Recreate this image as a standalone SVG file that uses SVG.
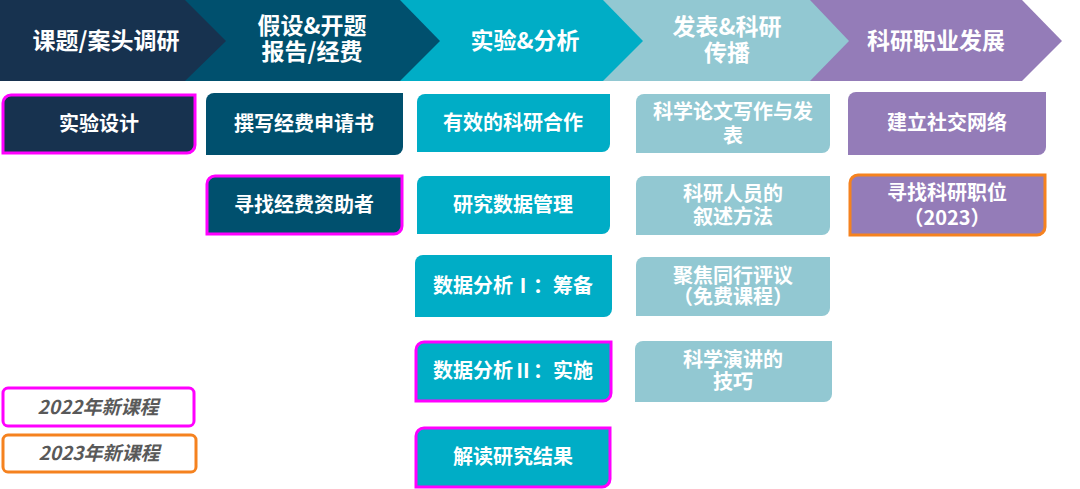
<svg xmlns="http://www.w3.org/2000/svg" width="1080" height="489" viewBox="0 0 1080 489">
<style>
text{font-family:"Noto Sans CJK SC","Noto Sans",sans-serif;font-weight:bold;fill:#fff;text-anchor:middle}
.h{font-size:23px}
.b{font-size:20px}
.lg{font-size:19px;fill:#595959;font-style:italic}
.navy{fill:#17324f}
.dteal{fill:#00506e}
.cyan{fill:#00adc6}
.lt{fill:#92c8d2}
.pur{fill:#947cb8}
.mag{stroke:#ff00ff;stroke-width:3}
.org{stroke:#f5821f;stroke-width:3}
</style>
<rect width="1080" height="489" fill="#fff"/>
<g id="header">
<polygon class="pur" points="810,0 1022,0 1062,41 1022,81 810,81"/>
<polygon class="lt" points="603,0 810,0 849,41 810,81 603,81"/>
<polygon class="cyan" points="400,0 603,0 643,41 603,81 400,81"/>
<polygon class="dteal" points="185,0 400,0 440,41 400,81 185,81"/>
<polygon class="navy" points="0,0 185,0 226,41 185,81 0,81"/>
<text class="h" x="106" y="49">课题/案头调研</text>
<text class="h" x="312" y="34">假设&amp;开题</text>
<text class="h" x="312" y="60">报告/经费</text>
<text class="h" x="525" y="49">实验&amp;分析</text>
<text class="h" x="727" y="35">发表&amp;科研</text>
<text class="h" x="727" y="61">传播</text>
<text class="h" x="936" y="49">科研职业发展</text>
</g>
<g id="n-shiyansheji">
<path class="navy mag" d="M3,103 A8,8 0 0 1 11,95 H195 V145 A8,8 0 0 1 187,153 H3 Z"/>
<text class="b" x="99" y="131">实验设计</text>
</g>
<g id="n-zhuanxie">
<path class="dteal" d="M206,101 A8,8 0 0 1 214,93 H403 V147 A8,8 0 0 1 395,155 H206 Z"/>
<text class="b" x="304" y="131">撰写经费申请书</text>
</g>
<g id="n-xunzhaojingfei">
<path class="dteal mag" d="M207,184 A8,8 0 0 1 215,176 H402 V226 A8,8 0 0 1 394,234 H207 Z"/>
<text class="b" x="304" y="212">寻找经费资助者</text>
</g>
<g id="n-hezuo">
<path class="cyan" d="M417,102 A8,8 0 0 1 425,94 H610 V144 A8,8 0 0 1 602,152 H417 Z"/>
<text class="b" x="513" y="130">有效的科研合作</text>
</g>
<g id="n-shujuguanli">
<path class="cyan" d="M417,184 A8,8 0 0 1 425,176 H610 V226 A8,8 0 0 1 602,234 H417 Z"/>
<text class="b" x="513" y="212">研究数据管理</text>
</g>
<g id="n-fenxi1">
<path class="cyan" d="M415,263 A8,8 0 0 1 423,255 H612 V309 A8,8 0 0 1 604,317 H415 Z"/>
<text class="b" x="513" y="293">数据分析Ⅰ：筹备</text>
</g>
<g id="n-fenxi2">
<path class="cyan mag" d="M416,350 A8,8 0 0 1 424,342 H611 V393 A8,8 0 0 1 603,401 H416 Z"/>
<text class="b" x="513" y="378">数据分析Ⅱ：实施</text>
</g>
<g id="n-jiedu">
<path class="cyan mag" d="M416,436 A8,8 0 0 1 424,428 H610 V479 A8,8 0 0 1 602,487 H416 Z"/>
<text class="b" x="513" y="464">解读研究结果</text>
</g>
<g id="n-lunwen">
<path class="lt" d="M636,102 A8,8 0 0 1 644,94 H830 V145 A8,8 0 0 1 822,153 H636 Z"/>
<text class="b" x="733" y="119">科学论文写作与发</text>
<text class="b" x="733" y="143">表</text>
</g>
<g id="n-xushu">
<path class="lt" d="M636,184 A8,8 0 0 1 644,176 H830 V227 A8,8 0 0 1 822,235 H636 Z"/>
<text class="b" x="733" y="201">科研人员的</text>
<text class="b" x="733" y="224">叙述方法</text>
</g>
<g id="n-pingyi">
<path class="lt" d="M636,265 A8,8 0 0 1 644,257 H830 V308 A8,8 0 0 1 822,316 H636 Z"/>
<text class="b" x="733" y="283">聚焦同行评议</text>
<text class="b" x="733" y="304">（免费课程）</text>
</g>
<g id="n-yanjiang">
<path class="lt" d="M635,349 A8,8 0 0 1 643,341 H832 V394 A8,8 0 0 1 824,402 H635 Z"/>
<text class="b" x="733" y="367">科学演讲的</text>
<text class="b" x="733" y="389">技巧</text>
</g>
<g id="n-shejiao">
<path class="pur" d="M848,100 A8,8 0 0 1 856,92 H1046 V147 A8,8 0 0 1 1038,155 H848 Z"/>
<text class="b" x="947" y="130">建立社交网络</text>
</g>
<g id="n-zhiwei">
<path class="pur org" d="M850,183 A8,8 0 0 1 858,175 H1045 V227 A8,8 0 0 1 1037,235 H850 Z"/>
<text class="b" x="947" y="200">寻找科研职位</text>
<text class="b" x="947" y="225">（2023）</text>
</g>
<g id="legend-2022">
<rect x="3" y="388" width="191" height="38" rx="5" fill="#fff" class="mag"/>
<text class="lg" x="98" y="414">2022年新课程</text>
</g>
<g id="legend-2023">
<rect x="3" y="435" width="193" height="37" rx="5" fill="#fff" class="org"/>
<text class="lg" x="99" y="460">2023年新课程</text>
</g>
<g id="connectors"></g>
</svg>
